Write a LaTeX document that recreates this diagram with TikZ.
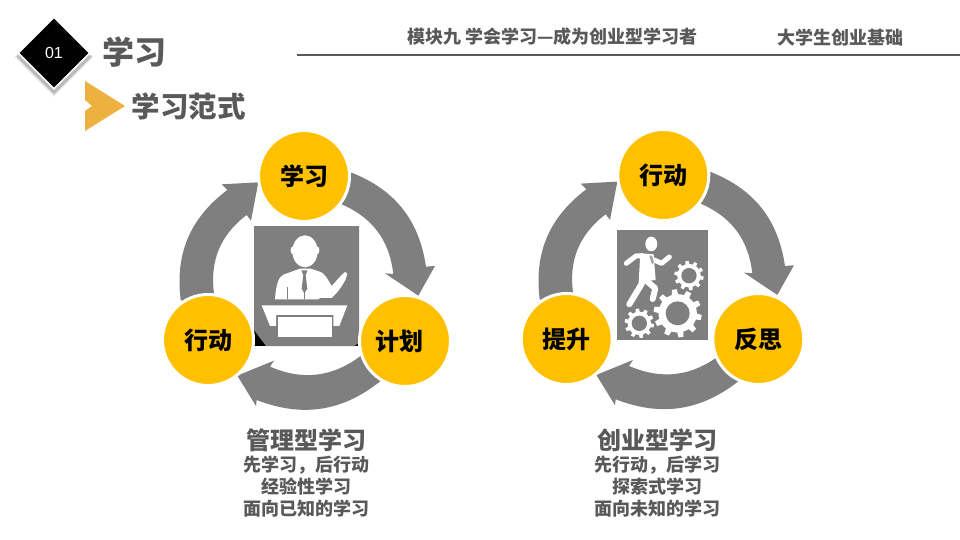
\documentclass[tikz,border=0pt]{standalone}
\usepackage{fontspec}
\usetikzlibrary{shapes.geometric}
\setmainfont{Noto Sans CJK SC}
\newfontfamily\latinf{Liberation Sans}
\definecolor{tgray}{HTML}{595959}
\definecolor{agray}{HTML}{7F7F7F}
\definecolor{gold}{HTML}{FFC000}
\definecolor{chev}{HTML}{EDB13F}
\newcommand\fsz[1]{\fontsize{#1}{#1}\selectfont}
\newcommand\lowered[1]{\raisebox{-1.5pt}{#1}}
\newcommand\ringarrows{%
  \fill[agray] (570,-190) -- (605,-143) to[bend left=30] (828,-425) -- (855,-423) -- (805,-512) -- (705,-445) -- (730,-447) to[bend right=30] (575,-238) -- cycle;
  \fill[agray] (700,-720) -- (692,-768) to[bend left=30] (320,-825) -- (318,-843) -- (262,-752) -- (372,-707) -- (360,-725) to[bend right=30] (632,-693) -- cycle;
  \fill[agray] (150,-560) -- (92,-525) to[bend left=30] (232,-195) -- (215,-178) -- (325,-172) -- (303,-287) -- (290,-270) to[bend right=30] (192,-505) -- cycle;
}
% gear: centre, outer radius, hole radius, tooth half-width (in local units)
\newcommand\gearshape[4]{%
  \begin{scope}[shift={#1}]
    \fill[white] (0,0) circle (#2*0.80);
    \foreach \a in {0,36,...,324}{
      \fill[white,rotate=\a+8] (-#4,#2*0.7) -- (#4,#2*0.7) -- (#4*0.75,#2) -- (-#4*0.75,#2) -- cycle;
    }
    \fill[agray] (0,0) circle (#3);
  \end{scope}
}
\tikzset{
  stepcirc/.style={circle,fill=gold,draw=white,line width=3pt,minimum size=91pt,inner sep=0pt,font=\fsz{24}\bfseries,text=black},
  captitle/.style={font=\fsz{24}\bfseries,text=tgray,inner sep=0pt,anchor=center},
  capline/.style={font=\fsz{18}\bfseries,text=tgray,inner sep=0pt,anchor=center},
  headtxt/.style={font=\fsz{18}\bfseries,text=tgray,inner sep=0pt,anchor=center}
}
\begin{document}
\begin{tikzpicture}[x=1pt,y=1pt]
\useasboundingbox (0,0) rectangle (960,-540);
\fill[white] (0,0) rectangle (960,-540);

% diamond badge with soft shadow
\foreach \r/\o in {40/0.04,39/0.06,38/0.08,37/0.12}{
  \fill[black,opacity=\o] (54,-57+\r) -- (54+\r,-57) -- (54,-57-\r) -- (54-\r,-57) -- cycle;
}
\node[diamond,aspect=1,fill=black,draw=white,line width=1.6pt,minimum size=72pt,inner sep=0pt,text=white,font=\latinf\fsz{16}] (badge) at (54,-53) {01};

\node[font=\fsz{32}\bfseries,text=tgray,inner sep=0pt] (title) at (134,-52) {学习};

\fill[chev] (85,-81) -- (125,-106) -- (85,-131) -- (85,-111) -- (92,-106) -- (85,-100) -- cycle;
\node[font=\fsz{28.5}\bfseries,text=tgray,inner sep=0pt] (sub) at (188.5,-106.5) {学习范式};

\node[headtxt] (h1) at (552.5,-37) {模块九 学会学习—成为创业型学习者};
\node[headtxt] (h2) at (840,-38) {大学生创业基础};
\coordinate (la) at (297,-55);
\coordinate (lb) at (960,-55);
\draw[tgray,line width=1.5pt] (la) -- (lb);

% ring 1
\begin{scope}[shift={(150,-125)},x=0.3333pt,y=0.3333pt]
  \ringarrows
\end{scope}
% lecturer icon
\fill[black] (254,-226) rectangle (359,-346);
\fill[agray] (254,-226) -- (359,-226) -- (359,-343) -- (354,-346) -- (266,-346) -- (254,-330) -- cycle;
\begin{scope}[shift={(250,-222)},x=0.3333pt,y=0.3333pt]
  \fill[white] (165,-88) ellipse (38 and 48);
  \fill[white] (127,-85) ellipse (5 and 11);
  \fill[white] (203,-85) ellipse (5 and 11);
  \fill[white] (75,-232) .. controls (78,-190) and (85,-165) .. (100,-158) -- (150,-140) -- (182,-140) -- (212,-150) .. controls (225,-155) and (235,-175) .. (245,-192) -- (272,-162) -- (285,-150) -- (292,-155) -- (287,-172) .. controls (275,-195) and (260,-215) .. (245,-228) -- (210,-228) -- (206,-232) -- cycle;
  \fill[agray] (154,-145) -- (172,-145) -- (167,-160) -- (172,-200) -- (163,-214) -- (155,-200) -- (160,-160) -- cycle;
  \fill[agray] (161,-208) rectangle (166,-232);
  \fill[agray] (110,-195) rectangle (112,-232);
  \fill[white] (35,-250) -- (292,-250) -- (268,-312) -- (250,-312) -- (250,-279) -- (78,-279) -- (78,-312) -- (60,-312) -- cycle;
  \fill[white] (85,-284) rectangle (245,-345);
\end{scope}
\node[stepcirc] (a1) at (304,-176) {\lowered{学习}};
\node[stepcirc] (a2) at (405,-341) {\kern-12pt\lowered{计划}};
\node[stepcirc] (a3) at (208,-340) {\lowered{行动}};

\node[captitle] (c1) at (306.5,-440) {管理型学习};
\node[capline] (c2) at (306.5,-465.5) {先学习，后行动};
\node[capline] (c3) at (306.5,-486.5) {经验性学习};
\node[capline] (c4) at (306.5,-508.5) {面向已知的学习};

% ring 2
\begin{scope}[shift={(509,-124.3)},x=0.3333pt,y=0.3333pt]
  \ringarrows
\end{scope}
\fill[agray] (617,-230) rectangle (708,-340);
\begin{scope}[shift={(510,-125)},x=0.3333pt,y=0.3333pt]
  \gearshape{(503,-565)}{72}{36}{10}
  \gearshape{(537,-452)}{44}{23}{6.5}
  \gearshape{(388,-595)}{44}{23}{6.5}
  \fill[white] (424,-357) ellipse (18 and 22);
  \fill[white] (391,-385) -- (431,-388) -- (437,-465) -- (386,-472) -- cycle;
  \draw[white,line width=5pt,line cap=round,line join=round] (349,-415) -- (378,-393) -- (400,-393);
  \draw[white,line width=5pt,line cap=round,line join=round] (425,-402) -- (455,-415) -- (478,-396);
  \draw[white,line width=6pt,line cap=round,line join=round] (396,-475) -- (358,-538);
  \draw[white,line width=6pt,line cap=round,line join=round] (410,-468) -- (436,-490) -- (428,-522);
  \fill[agray!70!white] (418,-392) -- (426,-392) -- (432,-412) -- (426,-418) -- cycle;
\end{scope}
\node[stepcirc] (b1) at (663.3,-175) {\lowered{行动}};
\node[stepcirc] (b2) at (758.3,-339) {\lowered{反思}};
\node[stepcirc] (b3) at (566.7,-339) {\lowered{提升}};

\node[captitle] (d1) at (657,-440) {创业型学习};
\node[capline] (d2) at (657,-465.5) {先行动，后学习};
\node[capline] (d3) at (657,-486.5) {探索式学习};
\node[capline] (d4) at (657,-508.5) {面向未知的学习};
\end{tikzpicture}
\end{document}
